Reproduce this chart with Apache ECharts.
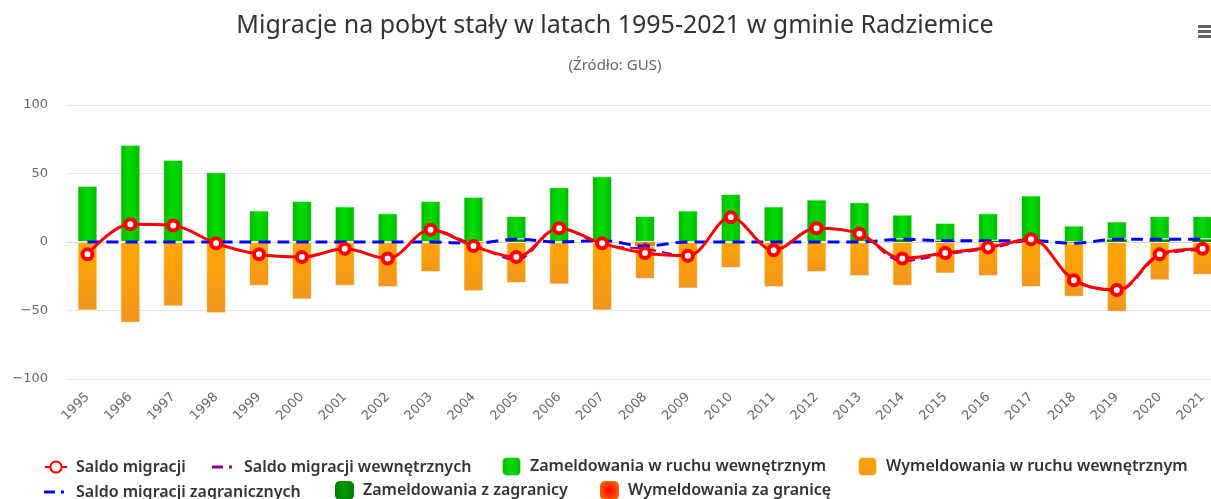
<!DOCTYPE html>
<html>
<head>
<meta charset="utf-8">
<script src="https://cdn.jsdelivr.net/npm/echarts@6/dist/echarts.min.js"></script>
<style>
  html, body { margin: 0; padding: 0; background: #fff; overflow: hidden; }
  #chart { width: 1230px; height: 499px; }
</style>
</head>
<body>
<div id="chart"></div>
<script>
const years = ["1995", "1996", "1997", "1998", "1999", "2000", "2001", "2002", "2003", "2004", "2005", "2006", "2007", "2008",
  "2009", "2010", "2011", "2012", "2013", "2014", "2015", "2016", "2017", "2018", "2019", "2020", "2021"];

const saldo = [-9, 13, 12, -1, -9, -11, -5, -12, 9, -3, -11, 10, -1, -8, -10, 18, -6, 10, 6, -12, -8, -4, 2, -28, -35, -9, -5];
const saldoInternal = [-9, 13, 12, -1, -9, -11, -5, -12, 9, -2, -13, 10, -2, -5, -10, 18, -6, 10, 6, -14, -9, -5, 1, -27, -36, -10, -6];
const saldoForeign = [0, 0, 0, 0, 0, 0, 0, 0, 0, -1, 2, 0, 1, -3, 0, 0, 0, 0, 0, 2, 1, 1, 1, -1, 2, 2, 2];

const inInternal = [41, 71, 60, 51, 23, 30, 26, 21, 30, 33, 17, 40, 47, 19, 23, 35, 26, 31, 29, 18, 13, 20, 33, 12, 13, 17, 17];
const outInternal = [-50, -59, -47, -52, -32, -42, -32, -33, -22, -35, -30, -31, -50, -24, -34, -19, -33, -22, -25, -32, -23, -25, -33, -39, -51, -28, -24];
const inForeign = [0, 0, 0, 0, 0, 0, 0, 0, 0, 0, 2, 0, 1, 0, 0, 0, 0, 0, 0, 2, 1, 1, 1, 0, 2, 2, 2];
const outForeign = [0, 0, 0, 0, 0, 0, 0, 0, 0, -1, 0, 0, 0, -3, 0, 0, 0, 0, 0, 0, 0, 0, 0, -1, 0, 0, 0];

const yTicks = { min: -100, max: 100, interval: 50 };

const FONT = "'Noto Sans', 'DejaVu Sans', sans-serif";
// dash + dot icon, with invisible specks at top and bottom to keep the 14px box
const DASH_DOT = "path://M0,0h0.01v0.01h-0.01Z M0,5.5H11V8.5H0Z M17,5.5H20V8.5H17Z M0,13.99h0.01v0.01h-0.01Z";

function radial(inner, outer) {
  return {
    type: "radial", x: 0.5, y: 0.5, r: 0.7,
    colorStops: [{ offset: 0, color: inner }, { offset: 1, color: outer }],
  };
}

function across(edge, middle) {
  return {
    type: "linear", x: 0, y: 0, x2: 1, y2: 0,
    colorStops: [{ offset: 0, color: edge }, { offset: 0.5, color: middle }, { offset: 1, color: edge }],
  };
}

const colors = {
  saldo: "#ff0000",
  internal: "#8b008b",
  foreign: "#0000ff",
  inInternal: across("#00b800", "#00dc00"),
  outInternal: {
    type: "linear", x: 0, y: 0, x2: 0, y2: 1,
    colorStops: [{ offset: 0, color: "#ffa600" }, { offset: 1, color: "#f0961e" }],
  },
  inForeign: across("#007e00", "#009600"),
  outForeign: radial("#ff0000", "#ff8000"),
};

function legendItem(name, left, top, width, height, icon) {
  const item = { name: name };
  if (icon) {
    item.icon = icon;
  }
  return {
    data: [item],
    left: left,
    top: top,
    padding: 0,
    itemWidth: width,
    itemHeight: height,
    textStyle: { fontFamily: FONT, fontSize: 16, fontWeight: 600, color: "#333", padding: [0, 0, 0, 4] },
  };
}

const chart = echarts.init(document.getElementById("chart"));

chart.setOption({
  animation: false,
  title: {
    text: "Migracje na pobyt stały w latach 1995-2021 w gminie Radziemice",
    subtext: "(Źródło: GUS)",
    left: "center",
    top: 8,
    itemGap: 20,
    textStyle: { fontFamily: FONT, fontSize: 25, fontWeight: "normal", color: "#333" },
    subtextStyle: { fontFamily: FONT, fontSize: 15, color: "#666" },
  },
  legend: [
    legendItem("Saldo migracji", 44, 459, 22, 14),
    legendItem("Saldo migracji wewnętrznych", 212, 459, 26, 14, DASH_DOT),
    legendItem("Zameldowania w ruchu wewnętrznym", 501, 456, 19, 19),
    legendItem("Wymeldowania w ruchu wewnętrznym", 857, 456, 19, 19),
    legendItem("Saldo migracji zagranicznych", 44, 484, 26, 14, DASH_DOT),
    legendItem("Zameldowania z zagranicy", 335, 481, 19, 19),
    legendItem("Wymeldowania za granicę", 600, 481, 19, 19),
  ],
  grid: { left: 66, top: 105, width: 1158, height: 274 },
  xAxis: {
    type: "category",
    data: years,
    axisLine: { lineStyle: { color: "#ccd6eb" } },
    axisTick: { length: 10, lineStyle: { color: "#ccd6eb" } },
    axisLabel: { rotate: 45, interval: 0, color: "#666", fontSize: 13, fontFamily: "'DejaVu Sans', sans-serif", margin: 16 },
  },
  yAxis: {
    type: "value",
    min: yTicks.min,
    max: yTicks.max,
    interval: yTicks.interval,
    axisLine: { show: false },
    axisTick: { show: false },
    axisLabel: {
      color: "#666",
      fontSize: 13,
      fontFamily: "'DejaVu Sans', sans-serif",
      margin: 18,
      formatter: (v) => String(v).replace("-", "\u2212"),
    },
    splitLine: { lineStyle: { color: "#e6e6e6" } },
  },
  series: [
    {
      name: "Zameldowania z zagranicy",
      type: "bar",
      stack: "moves",
      barWidth: 20,
      itemStyle: { color: colors.inForeign },
      data: inForeign,
    },
    {
      name: "Wymeldowania za granicę",
      type: "bar",
      stack: "moves",
      barWidth: 20,
      itemStyle: { color: colors.outForeign },
      data: outForeign,
    },
    {
      name: "Zameldowania w ruchu wewnętrznym",
      type: "bar",
      stack: "moves",
      barWidth: 20,
      itemStyle: { color: colors.inInternal, borderColor: "rgba(255,255,255,0.7)", borderWidth: 1 },
      data: inInternal,
    },
    {
      name: "Wymeldowania w ruchu wewnętrznym",
      type: "bar",
      stack: "moves",
      barWidth: 20,
      itemStyle: { color: colors.outInternal, borderColor: "rgba(255,255,255,0.7)", borderWidth: 1 },
      data: outInternal,
    },
    {
      name: "Saldo migracji wewnętrznych",
      type: "line",
      smooth: 0.35,
      showSymbol: false,
      symbol: "none",
      z: 3,
      itemStyle: { color: colors.internal },
      lineStyle: { color: colors.internal, width: 2, type: [10, 6] },
      data: saldoInternal,
    },
    {
      name: "Saldo migracji zagranicznych",
      type: "line",
      smooth: 0.35,
      showSymbol: false,
      symbol: "none",
      z: 4,
      itemStyle: { color: colors.foreign },
      lineStyle: { color: colors.foreign, width: 3, type: [12, 7] },
      data: saldoForeign,
    },
    {
      name: "Saldo migracji",
      type: "line",
      smooth: 0.35,
      symbol: "circle",
      symbolSize: 10,
      z: 5,
      itemStyle: { color: "#fff", borderColor: colors.saldo, borderWidth: 4 },
      lineStyle: { color: colors.saldo, width: 3 },
      data: saldo,
    },
  ],
  graphic: [
    {
      type: "group",
      left: 1198,
      top: 25,
      children: [
        { type: "rect", shape: { x: 0, y: 0, width: 14, height: 3 }, style: { fill: "#666" } },
        { type: "rect", shape: { x: 0, y: 5, width: 14, height: 3 }, style: { fill: "#666" } },
        { type: "rect", shape: { x: 0, y: 10, width: 14, height: 3 }, style: { fill: "#666" } },
      ],
    },
  ],
});
</script>
</body>
</html>
